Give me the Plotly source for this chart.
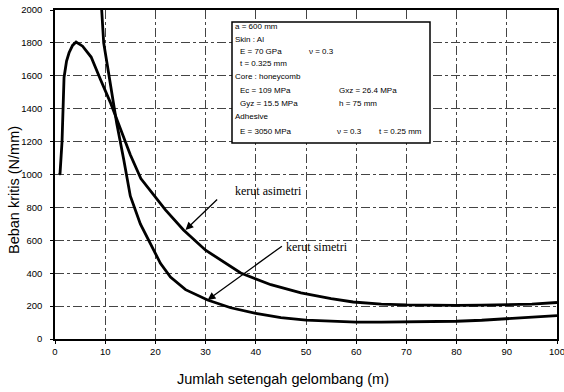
import plotly.graph_objects as go

# Kerut asimetri (asymmetric wrinkling)
asym_m = [0.8, 1.0, 1.4, 1.8, 2.3, 2.8, 3.5, 4.2, 5.5, 7.2, 9.1, 11, 12.5, 15, 17.1, 19.1,
          22, 25.6, 30, 37, 43, 49, 55, 59.4, 65, 70, 75, 80, 85, 90, 95, 100]
asym_load = [1000, 1005, 1200, 1590, 1690, 1740, 1785, 1805, 1780, 1714, 1574, 1440, 1320, 1120, 975, 895,
             785, 663, 540, 401, 330, 280, 245, 225, 212, 207, 205, 205, 206, 208, 212, 222]

# Kerut simetri (symmetric wrinkling)
sym_m = [9.3, 9.7, 10.5, 11.5, 12.3, 13.7, 15, 17, 19.1, 21, 23, 26, 30.4, 35, 40, 45, 50,
         55, 60, 65, 70, 75, 80, 85, 90, 95, 100]
sym_load = [2000, 1800, 1650, 1450, 1310, 1090, 870, 700, 575, 460, 377, 300, 237, 190, 155, 130, 115,
            107, 103, 102, 103, 105, 108, 114, 122, 130, 142]

x_ticks = [0, 10, 20, 30, 40, 50, 60, 70, 80, 90, 100]
y_ticks = [0, 200, 400, 600, 800, 1000, 1200, 1400, 1600, 1800, 2000]

box_lines = [
    ("a = 600 mm", 0),
    ("Skin : Al", 0),
    ("E = 70 GPa", 1),
    ("t = 0.325 mm", 1),
    ("Core : honeycomb", 0),
    ("Ec = 109 MPa", 1),
    ("Gyz = 15.5 MPa", 1),
    ("Adhesive", 0),
    ("E = 3050 MPa", 1),
]
box_col2 = [("ν = 0.3", 2, 307), ("Gxz = 26.4 MPa", 5, 337), ("h = 75 mm", 6, 337),
            ("ν = 0.3", 8, 335), ("t = 0.25 mm", 8, 377)]

fig = go.Figure()
fig.add_trace(go.Scatter(x=asym_m, y=asym_load, mode="lines", name="kerut asimetri",
                         line=dict(color="black", width=2.8)))
fig.add_trace(go.Scatter(x=sym_m, y=sym_load, mode="lines", name="kerut simetri",
                         line=dict(color="black", width=2.8)))

W, H = 564, 392
L, R, T, B = 55, 7, 10, 53
pw, ph = W - L - R, H - T - B

def px(xp):
    return (xp - L) / pw

def py(yp):
    return (H - B - yp) / ph

# parameter box
fig.add_shape(type="rect", xref="paper", yref="paper", x0=px(232), x1=px(430), y0=py(143), y1=py(22),
              line=dict(color="black", width=1.5), fillcolor="white", layer="above")

line_y = [27, 39, 52, 64, 77, 90, 103, 117, 131]
ann = []
for (txt, ind), yy in zip(box_lines, line_y):
    ann.append(dict(text=txt, xref="paper", yref="paper", x=px(233 + 5 * ind), y=py(yy),
                    xanchor="left", yanchor="middle", showarrow=False,
                    font=dict(family="Liberation Sans", size=8, color="black")))
for txt, idx, xx in box_col2:
    ann.append(dict(text=txt, xref="paper", yref="paper", x=px(xx), y=py(line_y[idx]),
                    xanchor="left", yanchor="middle", showarrow=False,
                    font=dict(family="Liberation Sans", size=8, color="black")))

# curve labels with arrows
ann.append(dict(text="kerut asimetri", x=35.4, y=900, xref="x", yref="y", xanchor="left",
                yanchor="middle", showarrow=False,
                font=dict(family="Liberation Serif", size=12, color="black")))
ann.append(dict(text="", x=26.0, y=663, ax=32.6, ay=857, xref="x", yref="y", axref="x", ayref="y",
                showarrow=True, arrowhead=2, arrowsize=1.2, arrowwidth=1.3, arrowcolor="black"))
ann.append(dict(text="kerut simetri", x=45.7, y=559, xref="x", yref="y", xanchor="left",
                yanchor="middle", showarrow=False,
                font=dict(family="Liberation Serif", size=12, color="black")))
ann.append(dict(text="", x=30.4, y=237, ax=45.5, ay=571, xref="x", yref="y", axref="x", ayref="y",
                showarrow=True, arrowhead=2, arrowsize=1.2, arrowwidth=1.3, arrowcolor="black"))

# axis titles
ann.append(dict(text="Jumlah setengah gelombang (m)", xref="paper", yref="paper", x=px(283), y=py(379),
                xanchor="center", yanchor="middle", showarrow=False,
                font=dict(family="Liberation Sans", size=14.5, color="black")))
ann.append(dict(text="Beban kritis (N/mm)", xref="paper", yref="paper", x=px(14), y=py(190),
                xanchor="center", yanchor="middle", showarrow=False, textangle=-90,
                font=dict(family="Liberation Sans", size=14.5, color="black")))

fig.update_layout(
    width=W, height=H,
    margin=dict(l=L, r=R, t=T, b=B),
    paper_bgcolor="white", plot_bgcolor="white",
    showlegend=False,
    annotations=ann,
    xaxis=dict(range=[0, 100], tickvals=x_ticks, ticktext=[str(v) for v in x_ticks],
               showgrid=True, gridcolor="#444", gridwidth=0.8, griddash="dashdot",
               showline=True, linecolor="black", linewidth=1.5, mirror=True,
               ticks="outside", ticklen=3, tickcolor="black", zeroline=False, automargin=False,
               ticklabeloverflow="allow",
               tickfont=dict(family="Liberation Sans", size=9.5, color="black")),
    yaxis=dict(range=[0, 2000], tickvals=y_ticks, ticktext=[str(v) for v in y_ticks],
               showgrid=True, gridcolor="#444", gridwidth=0.8, griddash="dashdot",
               showline=True, linecolor="black", linewidth=1.5, mirror=True,
               ticks="outside", ticklen=3, tickcolor="black", zeroline=False, automargin=False,
               ticklabelstandoff=6, ticklabeloverflow="allow",
               tickfont=dict(family="Liberation Sans", size=9.5, color="black")),
)

fig.write_html("out.html", config={"displayModeBar": False},
               post_script="document.body.style.margin='0px';document.body.style.overflow='hidden';")
